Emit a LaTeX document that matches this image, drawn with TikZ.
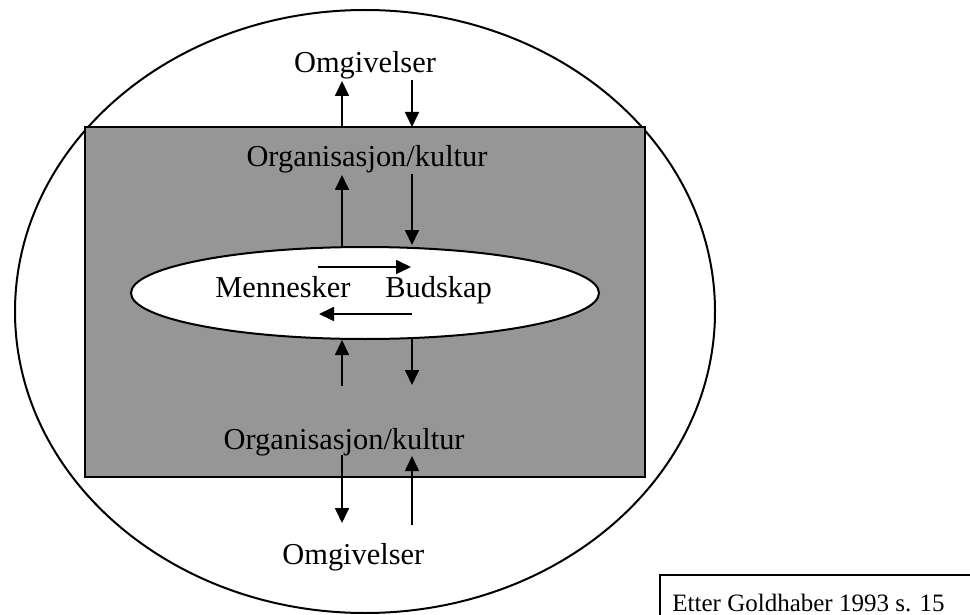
\documentclass[tikz,border=0pt]{standalone}
\usepackage{fontspec}
\setmainfont{Liberation Serif}
\usetikzlibrary{arrows.meta,shapes.geometric}
\definecolor{boxgray}{RGB}{150,150,150}
\begin{document}
\begin{tikzpicture}[x=0.5pt,y=-0.5pt,
  lbl/.style={font=\fontsize{15.2pt}{18pt}\selectfont, inner sep=0pt, anchor=base},
  srcfont/.style={font=\fontsize{12.5pt}{15pt}\selectfont, inner sep=0pt, anchor=base west},
  flow/.style={-{Triangle[length=7.5pt,width=7pt]}, line width=0.85pt},
  outline/.style={line width=1pt, draw, inner sep=0pt, outer sep=0pt}]
\useasboundingbox (0,0) rectangle (970,615);
\clip (0,0) rectangle (970,615);
% shapes
\node[ellipse, outline, minimum width=350pt, minimum height=301.5pt] (env) at (365,311.5) {};
\node[rectangle, outline, fill=boxgray, minimum width=280pt, minimum height=175pt] (org) at (365,302) {};
\node[ellipse, outline, fill=white, minimum width=234pt, minimum height=46pt] (core) at (365,293) {};
% labels
\node[lbl] (omgTop) at (365,73) {Omgivelser};
\node[lbl] (orgTop) at (367,167) {Organisasjon/kultur};
\node[lbl, anchor=base west] (menn) at (215,297) {Mennesker};
\node[lbl, anchor=base west] (bud) at (385,297) {Budskap};
\node[lbl, anchor=base east] (orgBot) at (465,449) {Organisasjon/kultur};
\node[lbl, anchor=base west] (omgBot) at (282,564) {Omgivelser};
% arrow end points
\coordinate (u1a) at (342,127); \coordinate (u1b) at (342,81);
\coordinate (d1a) at (412,80);  \coordinate (d1b) at (412,127);
\coordinate (u2a) at (342,246); \coordinate (u2b) at (342,175);
\coordinate (d2a) at (412,174); \coordinate (d2b) at (412,245);
\coordinate (u3a) at (342,386); \coordinate (u3b) at (342,340);
\coordinate (d3a) at (412,339); \coordinate (d3b) at (412,385);
\coordinate (d4a) at (342,455); \coordinate (d4b) at (342,523);
\coordinate (u4a) at (412,525); \coordinate (u4b) at (412,456);
\coordinate (r1a) at (318,267); \coordinate (r1b) at (411,267);
\coordinate (l1a) at (412,314); \coordinate (l1b) at (319,314);
% arrows
\draw[flow] (u1a) -- (u1b);
\draw[flow] (d1a) -- (d1b);
\draw[flow] (u2a) -- (u2b);
\draw[flow] (d2a) -- (d2b);
\draw[flow] (u3a) -- (u3b);
\draw[flow] (d3a) -- (d3b);
\draw[flow] (d4a) -- (d4b);
\draw[flow] (u4a) -- (u4b);
\draw[flow] (r1a) -- (r1b);
\draw[flow] (l1a) -- (l1b);
% source box
\node[rectangle, outline, anchor=north west, minimum width=165pt, minimum height=30pt] (src) at (660,575) {};
\node[srcfont] (srctext) at (672,611) {Etter Goldhaber 1993 s. 15};
\end{tikzpicture}
\end{document}
